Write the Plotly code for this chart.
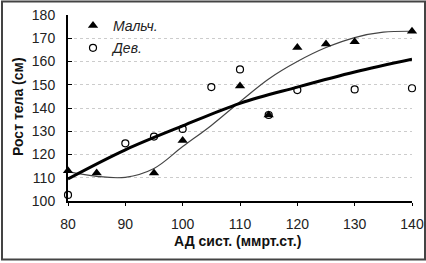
import plotly.graph_objects as go

boys_x = [80, 85, 95, 100, 110, 115, 120, 125, 130, 140]
boys_y = [113, 112, 112, 126, 149.5, 137, 166, 167.5, 168.5, 173]
girls_x = [80, 90, 95, 100, 105, 110, 115, 120, 130, 140]
girls_y = [102.6, 124.8, 127.7, 131, 149, 156.6, 137, 147.7, 148, 148.5]

# trend lines
thin_x = [80, 85, 90, 95, 100, 105, 110, 115, 120, 125, 130, 135, 140]
thin_y = [112.6, 110.6, 110.2, 114, 123.4, 132.5, 142.7, 152.5, 160, 166, 170.3, 172.6, 173]
thick_x = [80, 90, 100, 110, 120, 130, 140]
thick_y = [109.5, 122, 132.3, 142, 149, 155.5, 161]

x_ticks = [80, 90, 100, 110, 120, 130, 140]
y_ticks = [100, 110, 120, 130, 140, 150, 160, 170, 180]

L, R, T, B = 68, 14, 15, 62
W, H = 426, 263
pw, ph = W - L - R, H - T - B


def px_x(p):
    return (p - L) / pw


def px_y(p):
    return (H - B - p) / ph


fig = go.Figure()
fig.add_trace(go.Scatter(x=thin_x, y=thin_y, mode="lines",
                         line=dict(color="#444", width=1.2, shape="spline", smoothing=1.0),
                         showlegend=False, hoverinfo="skip"))
fig.add_trace(go.Scatter(x=thick_x, y=thick_y, mode="lines",
                         line=dict(color="black", width=3, shape="spline", smoothing=1.0),
                         showlegend=False, hoverinfo="skip"))
fig.add_trace(go.Scatter(x=boys_x, y=boys_y, mode="markers", name="Мальч.", legendgroup="b",
                         marker=dict(symbol="triangle-up", size=9, color="black"), cliponaxis=False))
fig.add_trace(go.Scatter(x=girls_x, y=girls_y, mode="markers", name="Дев.", legendgroup="g",
                         marker=dict(symbol="circle-open", size=7, color="black", line=dict(width=1.2)),
                         cliponaxis=False))

fig.update_layout(
    width=W, height=H,
    margin=dict(l=L, r=R, t=T, b=B, autoexpand=False),
    paper_bgcolor="white", plot_bgcolor="white",
    font=dict(family="Liberation Sans, Arial, sans-serif", size=14, color="#222"),
    legend=dict(x=px_x(73), y=px_y(10), xanchor="left", yanchor="top", bgcolor="rgba(0,0,0,0)",
                font=dict(size=14, style="italic", color="#222"), tracegroupgap=1,
                itemwidth=30),
    xaxis=dict(range=[80, 140], tickvals=x_ticks, showgrid=False, showline=True,
               linecolor="black", linewidth=2, ticks="outside", ticklen=3, tickcolor="black",
               zeroline=False, automargin=False, ticklabelstandoff=6),
    yaxis=dict(range=[100, 180], tickvals=y_ticks, showgrid=True, gridcolor="#ccc",
               griddash="dot", gridwidth=1, showline=True, linecolor="black", linewidth=2,
               ticks="inside", ticklen=4, tickcolor="black", zeroline=False,
               automargin=False, ticklabelstandoff=8),
    annotations=[
        dict(text="<b>АД сист. (ммрт.ст.)</b>", xref="paper", yref="paper",
             x=px_x(237), y=px_y(241), xanchor="center", yanchor="middle",
             showarrow=False, font=dict(size=14, color="#111")),
        dict(text="<b>Рост тела (см)</b>", xref="paper", yref="paper", textangle=-90,
             x=px_x(18), y=px_y(107), xanchor="center", yanchor="middle",
             showarrow=False, font=dict(size=14, color="#111")),
    ],
    shapes=[dict(type="rect", xref="paper", yref="paper", x0=px_x(2), x1=px_x(425),
                 y0=px_y(259.5), y1=px_y(1.5), line=dict(color="#444", width=2), layer="above")],
)

fig.write_html("out.html", config={"displayModeBar": False},
               post_script="document.body.style.margin='0';document.body.style.overflow='hidden';")
